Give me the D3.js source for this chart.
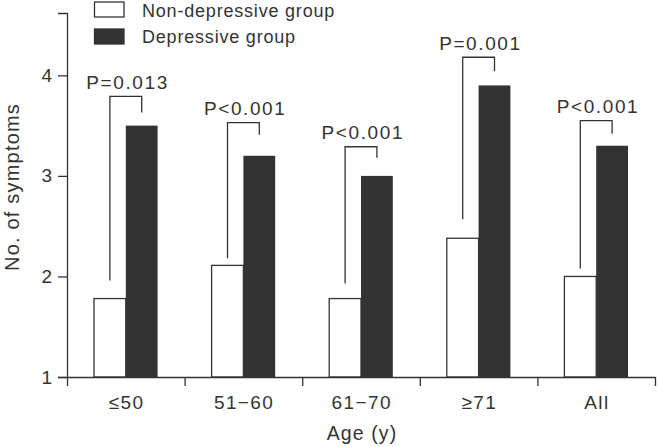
<!DOCTYPE html>
<html><head><meta charset="utf-8">
<script src="https://cdn.jsdelivr.net/npm/d3@7"></script>
<style>body{margin:0;background:#fff}svg{display:block}text{font-family:"Liberation Sans",Arial,Helvetica,sans-serif;fill:#333}</style>
</head><body><svg id="c" width="658" height="447"></svg>
<script>
const categories = ["\u226450", "51\u221260", "61\u221270", "\u226571", "All"];
const seriesNames = ["Non-depressive group", "Depressive group"];
const nonDepressive = [1.78, 2.11, 1.78, 2.38, 2.0];
const depressive = [3.5, 3.2, 3.0, 3.9, 3.3];
const pLabels = ["P=0.013", "P<0.001", "P<0.001", "P=0.001", "P<0.001"];
const bracketTop = [3.79, 3.53, 3.29, 4.18, 3.55];
const bracketLeftEnd = [1.96, 2.18, 1.93, 2.57, 2.08];
const bracketRightEnd = [3.63, 3.41, 3.18, 4.04, 3.42];
const yTicks = [1, 2, 3, 4];

(function () {
const svg = d3.select("#c");
const ink = "#333";
const ff = "Liberation Sans, Arial, sans-serif";
const mL = 67, mR = 655, mT = 13, mB = 377;
const y = d3.scaleLinear().domain([1, 4.62]).range([mB, mT]);
const x = d3.scaleBand().domain(categories).range([mL, mR]).padding(0);
const xb = d3.scaleLinear().domain([0, categories.length]).range([mL, mR]);
const bw = 31.8;
const xs = d3.scaleBand().domain(["n", "d"]).range([-bw, bw]);

categories.forEach((c, i) => {
  const cx = x(c) + x.bandwidth() / 2;
  svg.append("rect").attr("x", cx + xs("n")).attr("width", xs.bandwidth())
    .attr("y", y(nonDepressive[i])).attr("height", y(1) - y(nonDepressive[i]))
    .attr("fill", "#fff").attr("stroke", ink).attr("stroke-width", 1.3);
  svg.append("rect").attr("x", cx + xs("d")).attr("width", xs.bandwidth())
    .attr("y", y(depressive[i])).attr("height", y(1) - y(depressive[i]))
    .attr("fill", ink);
  const lx = cx + xs("n") + xs.bandwidth() / 2, rx = cx + xs("d") + xs.bandwidth() / 2;
  svg.append("path").attr("fill", "none").attr("stroke", ink).attr("stroke-width", 1.3)
    .attr("d", `M${lx},${y(bracketLeftEnd[i])}V${y(bracketTop[i])}H${rx}V${y(bracketRightEnd[i])}`);
  svg.append("text").attr("x", cx + 1.8).attr("y", y(bracketTop[i]) - 7.5)
    .attr("text-anchor", "middle").attr("font-size", 19).attr("letter-spacing", 1.6)
    .text(pLabels[i]);
});

const ya = svg.append("g").attr("transform", `translate(${mL},0)`)
  .call(d3.axisLeft(y).tickValues(yTicks).tickFormat(d3.format("d")).tickSize(9).tickPadding(6));
ya.selectAll("text").attr("font-size", 19).attr("font-family", ff).attr("fill", ink);
ya.selectAll("line,path").attr("stroke", ink).attr("stroke-width", 1.3);

const xa = svg.append("g").attr("transform", `translate(0,${mB})`)
  .call(d3.axisBottom(xb).tickValues(d3.range(categories.length + 1)).tickSize(9).tickSizeOuter(0).tickFormat(""));
xa.selectAll("line,path").attr("stroke", ink).attr("stroke-width", 1.3);
const xl = svg.append("g").attr("transform", `translate(0.7,${mB})`)
  .call(d3.axisBottom(x).tickSize(0).tickPadding(19));
xl.select("path").remove();
xl.selectAll("text").attr("font-size", 19).attr("font-family", ff).attr("fill", ink).attr("letter-spacing", 1.4);

svg.append("text").attr("x", 362).attr("y", 440).attr("text-anchor", "middle")
  .attr("font-size", 19.5).attr("letter-spacing", 1.1).text("Age (y)");
svg.append("text").attr("transform", `translate(19,187) rotate(-90)`)
  .attr("text-anchor", "middle").attr("font-size", 20).attr("letter-spacing", 1.2).text("No. of symptoms");

const lg = svg.append("g").attr("transform", "translate(94,0)");
seriesNames.forEach((s, i) => {
  lg.append("rect").attr("x", 0.5).attr("y", 2 + i * 27).attr("width", 29.5).attr("height", 15)
    .attr("fill", i === 0 ? "#fff" : ink).attr("stroke", ink).attr("stroke-width", 1.3);
  lg.append("text").attr("x", 48).attr("y", 17 + i * 26).attr("font-size", 18).attr("letter-spacing", 0.8).text(s);
});
})();
</script></body></html>
